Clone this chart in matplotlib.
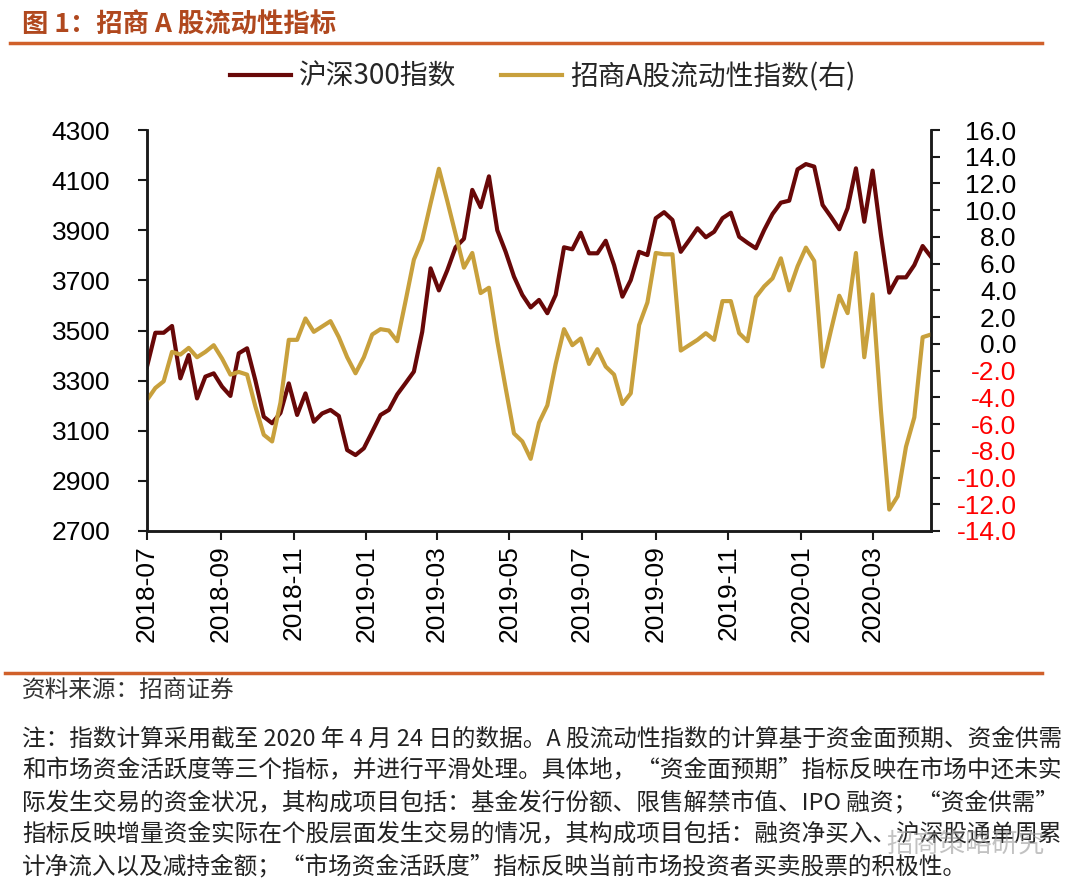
import matplotlib
matplotlib.use('Agg')
import matplotlib.pyplot as plt
import matplotlib.dates as mdates
from matplotlib.lines import Line2D
import pandas as pd

plt.rcParams['font.family'] = ['Noto Sans CJK SC', 'DejaVu Sans']

# weekly data, 2018-07 .. 2020-04-24
dates = pd.date_range('2018-07-06', periods=95, freq='7D')

hs300 = [3356, 3491, 3491, 3518, 3309, 3402, 3229, 3316, 3329, 3276,
         3239, 3409, 3429, 3300, 3156, 3130, 3171, 3289, 3163, 3249,
         3136, 3169, 3183, 3159, 3023, 3003, 3030, 3096, 3163, 3183,
         3245, 3290, 3336, 3495, 3748, 3660, 3740, 3832, 3866, 4061,
         3992, 4115, 3900, 3814, 3715, 3642, 3592, 3622, 3569, 3642,
         3832, 3824, 3890, 3808, 3808, 3858, 3761, 3635, 3701, 3814,
         3801, 3948, 3972, 3941, 3814, 3860, 3908, 3872, 3894, 3948,
         3970, 3874, 3850, 3828, 3901, 3965, 4010, 4018, 4143, 4164,
         4154, 4001, 3954, 3904, 3988, 4147, 3934, 4138, 3881, 3651,
         3712, 3712, 3761, 3837, 3794]

liquidity = [-4.2, -3.3, -2.8, -0.6, -0.8, -0.3, -1.0, -0.6, -0.1, -1.1,
             -2.3, -2.1, -2.3, -4.7, -6.8, -7.3, -4.4, 0.3, 0.3, 1.9,
             0.9, 1.3, 1.7, 0.5, -1.0, -2.2, -1.0, 0.7, 1.1, 1.0,
             0.2, 3.2, 6.3, 7.8, 10.5, 13.1, 10.7, 8.2, 5.7, 6.8,
             3.8, 4.2, 0.2, -3.3, -6.7, -7.3, -8.6, -5.9, -4.6, -1.5,
             1.1, -0.1, 0.4, -1.5, -0.4, -1.7, -2.3, -4.5, -3.7, 1.4,
             3.1, 6.8, 6.7, 6.7, -0.5, -0.1, 0.3, 0.8, 0.3, 3.2,
             3.2, 0.8, 0.2, 3.5, 4.3, 4.9, 6.4, 4.0, 5.8, 7.2,
             6.2, -1.7, 1.0, 3.6, 2.3, 6.8, -1.0, 3.7, -5.0, -12.4,
             -11.4, -7.7, -5.5, 0.5, 0.7]

left_ticks = list(range(2700, 4301, 200))
right_ticks = list(range(-14, 17, 2))
xtick_dates = pd.date_range('2018-07-06', periods=11, freq=pd.DateOffset(months=2))

title = '图 1：招商 A 股流动性指标'
source = '资料来源：招商证券'
notes = [
    '注：指数计算采用截至 2020 年 4 月 24 日的数据。A 股流动性指数的计算基于资金面预期、资金供需',
    '和市场资金活跃度等三个指标，并进行平滑处理。具体地，“资金面预期”指标反映在市场中还未实',
    '际发生交易的资金状况，其构成项目包括：基金发行份额、限售解禁市值、IPO 融资；“资金供需”',
    '指标反映增量资金实际在个股层面发生交易的情况，其构成项目包括：融资净买入、沪深股通单周累',
    '计净流入以及减持金额；“市场资金活跃度”指标反映当前市场投资者买卖股票的积极性。',
]

RED = '#680808'
GOLD = '#C8A03C'
ORANGE = '#D0602A'
W, H = 1080, 892

fig = plt.figure(figsize=(10.8, 8.92), dpi=100)
ax = fig.add_axes([147 / W, 1 - 531 / H, (931 - 147) / W, (531 - 130) / H])
ax2 = ax.twinx()

l1, = ax.plot(dates, hs300, color=RED, lw=3.0, label='沪深300指数')
l2, = ax2.plot(dates, liquidity, color=GOLD, lw=3.0, label='招商A股流动性指数(右)')

ax.set_xlim(dates[0], dates[-1])
ax.set_ylim(2700, 4300)
ax.set_yticks(left_ticks)
ax2.set_ylim(-14, 16)
ax2.set_yticks(right_ticks)
ax2.set_yticklabels([f'{v:.1f}' for v in right_ticks])

ax.set_xticks(xtick_dates)
ax.xaxis.set_major_formatter(mdates.DateFormatter('%Y-%m'))

numfont = dict(family=['Liberation Sans', 'DejaVu Sans'], size=19)
for a in (ax, ax2):
    a.spines['top'].set_visible(False)
    for s in ('left', 'right', 'bottom'):
        a.spines[s].set_linewidth(1.8)
        a.spines[s].set_color('#1a1a1a')
    a.tick_params(length=6.5, width=1.5, color='#1a1a1a')

ax.tick_params(axis='y', pad=20)
ax.tick_params(axis='x', pad=4)
ax2.tick_params(axis='y', pad=55)
for t in ax.get_yticklabels():
    t.set_fontproperties(numfont)
for t in ax.get_xticklabels():
    t.set_fontproperties(numfont)
    t.set_rotation(90)
for t, v in zip(ax2.get_yticklabels(), right_ticks):
    t.set_fontproperties(numfont)
    t.set_ha('right')
    t.set_color('#FF0000' if v < 0 else '#000000')

fig.legend([l1, l2], [l1.get_label(), l2.get_label()], loc='center',
           bbox_to_anchor=(543 / W, 1 - 77 / H), ncol=2, frameon=False,
           fontsize=20, handlelength=2.2, handletextpad=0.3,
           columnspacing=1.6, labelcolor='#262626')

# header and footer
fig.text(22 / W, 1 - 25 / H, title, fontsize=19, fontweight='bold',
         color='#B0481E', va='center', ha='left')
fig.add_artist(Line2D([10 / W, 1042 / W], [1 - 43 / H, 1 - 43 / H],
                      color=ORANGE, lw=2.5, transform=fig.transFigure))
fig.add_artist(Line2D([5 / W, 1042 / W], [1 - 673 / H, 1 - 673 / H],
                      color=ORANGE, lw=2.5, transform=fig.transFigure))
fig.text(22 / W, 1 - 690 / H, source, fontsize=17, color='#333333',
         va='center', ha='left')
for i, line in enumerate(notes):
    fig.text(22 / W, 1 - (739 + 32 * i) / H, line, fontsize=17,
             color='#222222', va='center', ha='left')

fig.text(1045 / W, 1 - 845 / H, '招商策略研究', fontsize=19, color='#9a9a9a',
         alpha=0.6, va='center', ha='right')

fig.savefig('out.png', dpi=100)
